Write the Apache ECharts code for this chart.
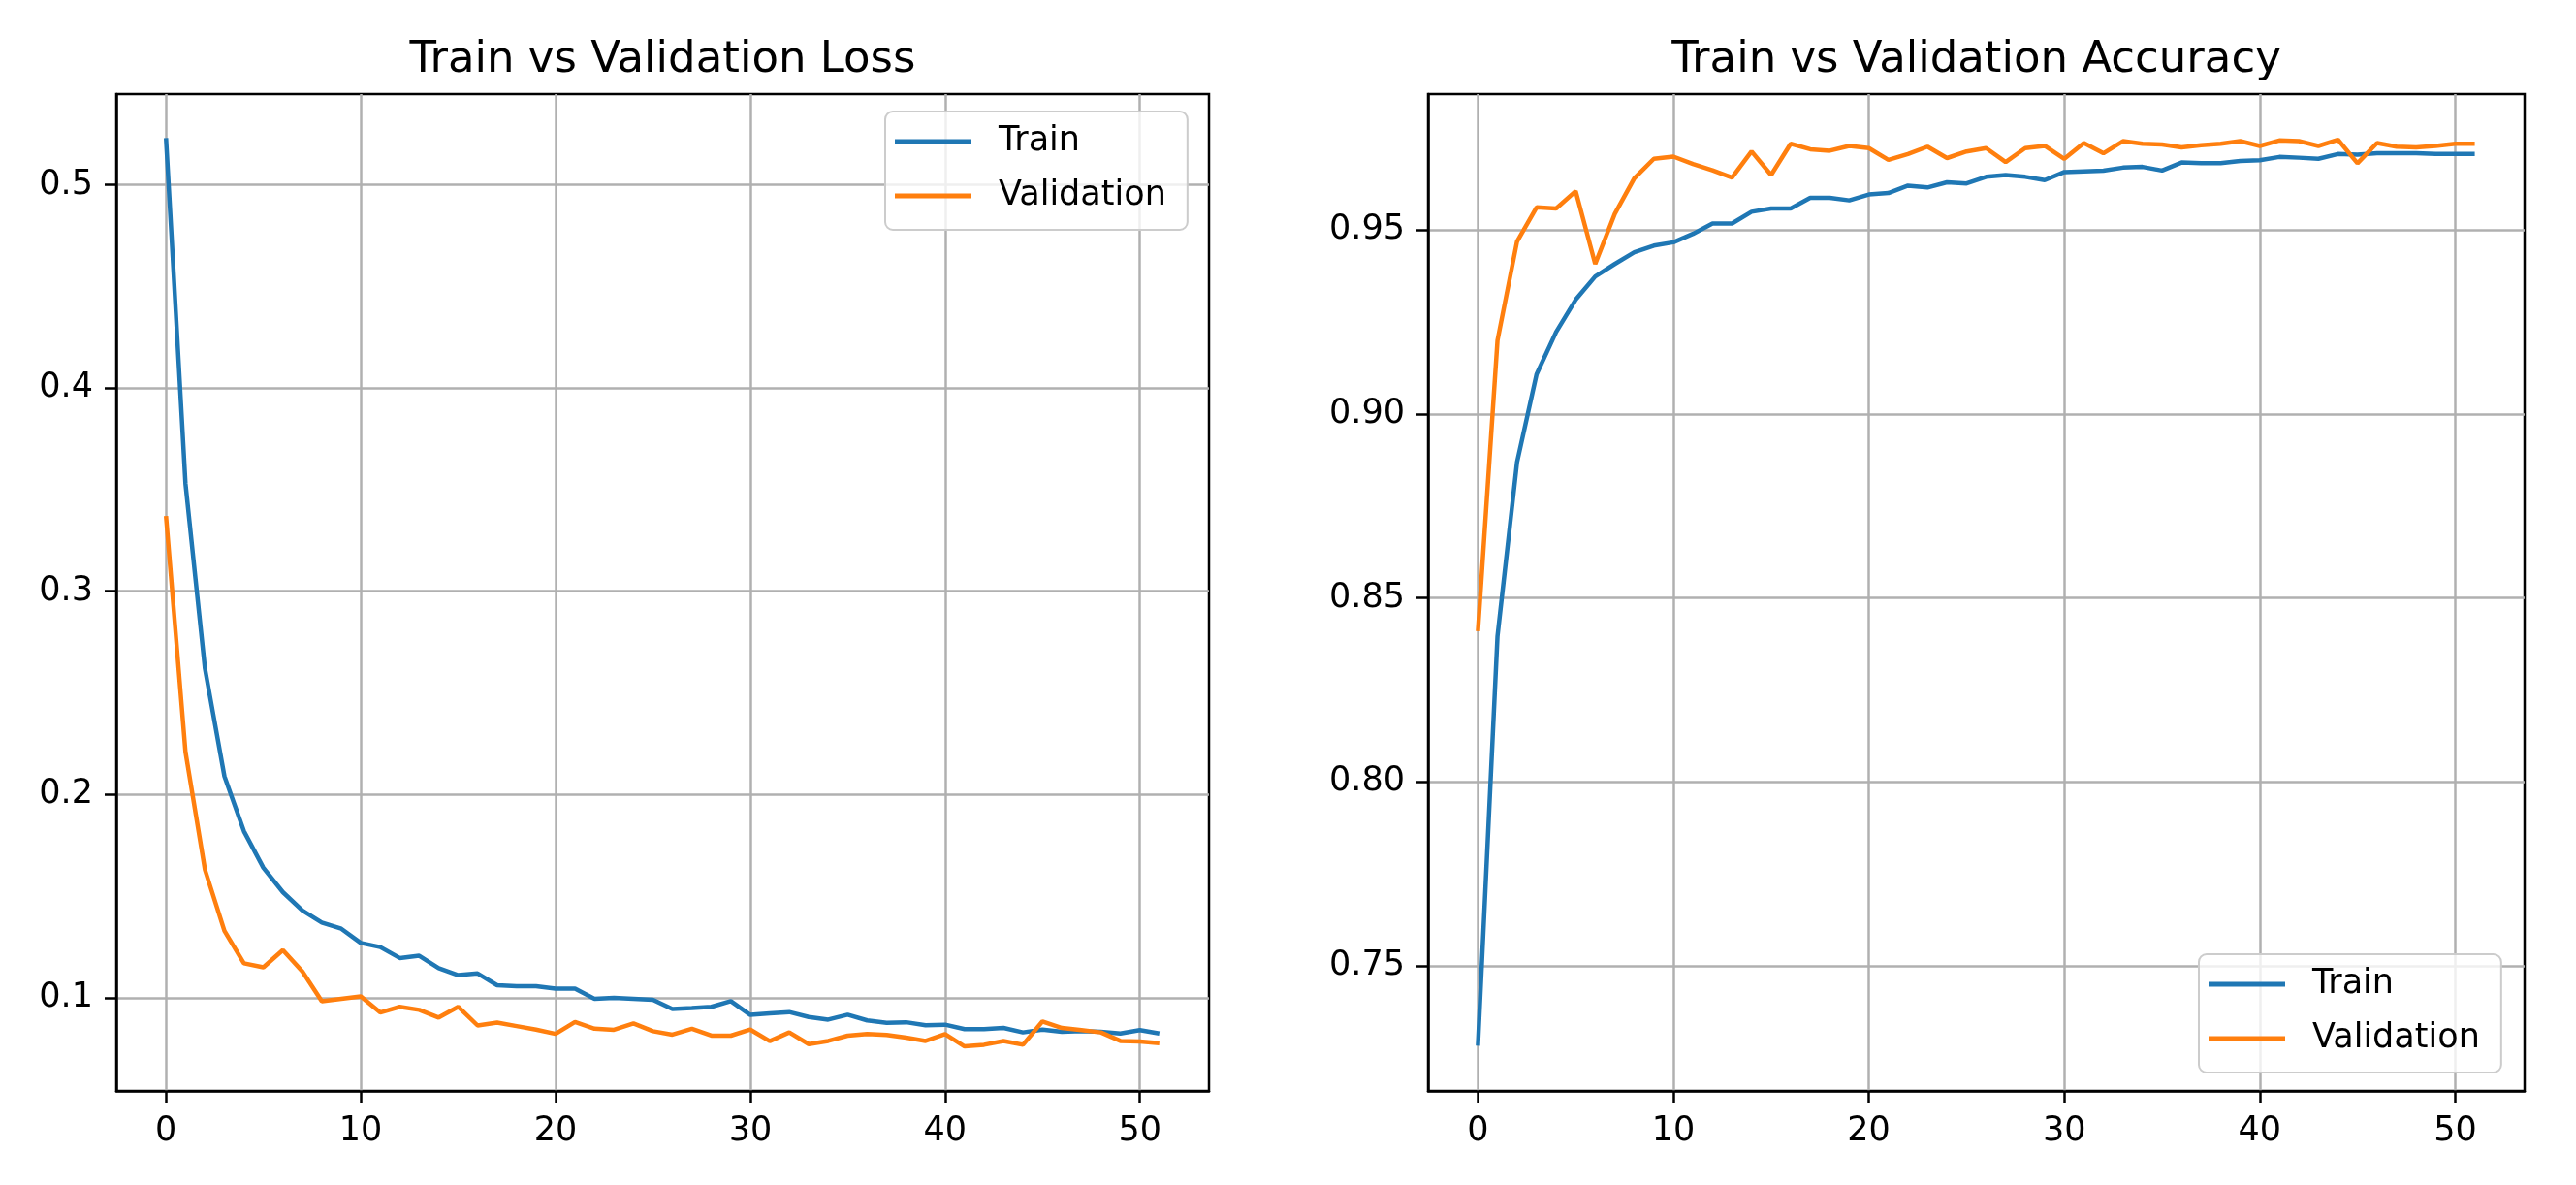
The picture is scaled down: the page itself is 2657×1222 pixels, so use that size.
<!DOCTYPE html>
<html>
<head>
<meta charset="utf-8">
<script src="https://cdn.jsdelivr.net/npm/echarts@6/dist/echarts.min.js"></script>
<style>
html,body{margin:0;padding:0;background:#fff;}
#chart{width:2657px;height:1222px;}
</style>
</head>
<body>
<div id="chart"></div>
<script>
const epochs = [0,1,2,3,4,5,6,7,8,9,10,11,12,13,14,15,16,17,18,19,20,21,22,23,24,25,26,27,28,29,30,31,32,33,34,35,36,37,38,39,40,41,42,43,44,45,46,47,48,49,50,51];
const lossTrain = [0.523,0.353,0.262,0.209,0.182,0.164,0.152,0.143,0.137,0.134,0.127,0.125,0.1196,0.1207,0.1146,0.1112,0.112,0.1062,0.1057,0.1057,0.1045,0.1045,0.0995,0.1,0.0995,0.099,0.0945,0.095,0.0956,0.0984,0.0916,0.0924,0.093,0.0906,0.0893,0.0917,0.0889,0.0877,0.088,0.0865,0.0868,0.0846,0.0846,0.0852,0.083,0.0844,0.0833,0.0836,0.0833,0.0825,0.0841,0.0825];
const lossVal = [0.337,0.221,0.163,0.133,0.117,0.115,0.1235,0.113,0.0983,0.0995,0.1007,0.0928,0.0956,0.0941,0.0903,0.0956,0.0864,0.0878,0.0861,0.0844,0.0823,0.0881,0.0848,0.0843,0.0874,0.0836,0.0819,0.0848,0.0814,0.0814,0.0844,0.0787,0.083,0.0772,0.0788,0.0814,0.0822,0.0817,0.0804,0.0788,0.0822,0.0761,0.0769,0.0788,0.0769,0.0884,0.0852,0.0841,0.083,0.0788,0.0785,0.0777];
const accTrain = [0.7283,0.8396,0.8869,0.9108,0.9223,0.9311,0.9374,0.9408,0.944,0.9458,0.9467,0.949,0.9518,0.9518,0.955,0.9559,0.9559,0.9588,0.9588,0.9581,0.9597,0.9601,0.9621,0.9616,0.963,0.9627,0.9645,0.965,0.9645,0.9636,0.9658,0.966,0.9662,0.967,0.9672,0.9662,0.9684,0.9682,0.9682,0.9688,0.969,0.9699,0.9697,0.9694,0.9707,0.9705,0.9709,0.9709,0.9709,0.9707,0.9707,0.9707];
const accVal = [0.841,0.92,0.9469,0.9562,0.9559,0.9606,0.9408,0.9544,0.9641,0.9694,0.97,0.968,0.9663,0.9643,0.9714,0.965,0.9735,0.972,0.9716,0.9729,0.9723,0.9691,0.9707,0.9727,0.9696,0.9714,0.9723,0.9685,0.9723,0.9729,0.9694,0.9737,0.9709,0.9742,0.9735,0.9733,0.9725,0.9731,0.9735,0.9742,0.9729,0.9744,0.9742,0.9729,0.9746,0.9682,0.9737,0.9727,0.9725,0.9729,0.9735,0.9735];
const epochTicks = [0,10,20,30,40,50];
const lossTicks = [0.1,0.2,0.3,0.4,0.5];
const accTicks = [0.75,0.80,0.85,0.90,0.95];
const titles = ['Train vs Validation Loss','Train vs Validation Accuracy'];
const seriesNames = ['Train','Validation'];

const FONT = 'DejaVu Sans';
const BLUE = '#1f77b4', ORANGE = '#ff7f0e';

function pairs(xs, ys){ return xs.map((x,i)=>[x, ys[i]]); }

function xAxis(gi){
  return {
    type:'value', gridIndex:gi, min:-2.55, max:53.55,
    axisLine:{show:true, onZero:false, lineStyle:{color:'#000', width:2.5}},
    axisTick:{show:true, length:12, lineStyle:{color:'#000', width:2.5}, customValues:epochTicks},
    axisLabel:{show:true, customValues:epochTicks, color:'#000', fontFamily:FONT, fontSize:35, margin:24},
    splitLine:{show:true, lineStyle:{color:'#b0b0b0', width:2.5}}
  };
}
function yAxis(gi, min, max, ticks, digits){
  return {
    type:'value', gridIndex:gi, min:min, max:max,
    axisLine:{show:true, onZero:false, lineStyle:{color:'#000', width:2.5}},
    axisTick:{show:true, length:12, lineStyle:{color:'#000', width:2.5}, customValues:ticks},
    axisLabel:{show:true, customValues:ticks, color:'#000', fontFamily:FONT, fontSize:35, margin:24,
      formatter:(v)=>Number(v).toFixed(digits)},
    splitLine:{show:true, lineStyle:{color:'#b0b0b0', width:2.5}}
  };
}
function lineSeries(name, data, color, xi){
  return {
    type:'line', name:name, xAxisIndex:xi, yAxisIndex:xi, data:data,
    showSymbol:false, symbol:'none', smooth:false,
    lineStyle:{color:color, width:4.5}, itemStyle:{color:color},
    z:3
  };
}
function legend(left, top){
  return {
    orient:'vertical', left:left, top:top, data:seriesNames,
    icon:'rect', itemWidth:79, itemHeight:5, itemGap:16,
    padding:[11,22,15,10],
    backgroundColor:'rgba(255,255,255,0.8)', borderColor:'#cccccc', borderWidth:2, borderRadius:8,
    textStyle:{color:'#000', fontFamily:FONT, fontSize:35, lineHeight:40, padding:[0,0,0,23]},
    selectedMode:false, z:10
  };
}

const chart = echarts.init(document.getElementById('chart'), null, {renderer:'canvas'});
chart.setOption({
  backgroundColor:'#fff',
  animation:false,
  title:[
    {text:titles[0], left:683.5, top:40, textAlign:'center', padding:0,
     textStyle:{fontFamily:FONT, fontSize:45, fontWeight:'normal', color:'#000', lineHeight:45}},
    {text:titles[1], left:2038.5, top:40, textAlign:'center', padding:0,
     textStyle:{fontFamily:FONT, fontSize:45, fontWeight:'normal', color:'#000', lineHeight:45}}
  ],
  grid:[
    {left:120, top:97, width:1127, height:1028, show:true, borderColor:'#000', borderWidth:2.5, backgroundColor:'transparent', containLabel:false, outerBoundsMode:'none'},
    {left:1473, top:97, width:1131, height:1028, show:true, borderColor:'#000', borderWidth:2.5, backgroundColor:'transparent', containLabel:false, outerBoundsMode:'none'}
  ],
  xAxis:[xAxis(0), xAxis(1)],
  yAxis:[yAxis(0, 0.0542, 0.5446, lossTicks, 1), yAxis(1, 0.716, 0.987, accTicks, 2)],
  legend:[legend(913,115), legend(2268,984)],
  series:[
    lineSeries(seriesNames[0], pairs(epochs, lossTrain), BLUE, 0),
    lineSeries(seriesNames[1], pairs(epochs, lossVal), ORANGE, 0),
    lineSeries(seriesNames[0], pairs(epochs, accTrain), BLUE, 1),
    lineSeries(seriesNames[1], pairs(epochs, accVal), ORANGE, 1)
  ]
});
</script>
</body>
</html>
